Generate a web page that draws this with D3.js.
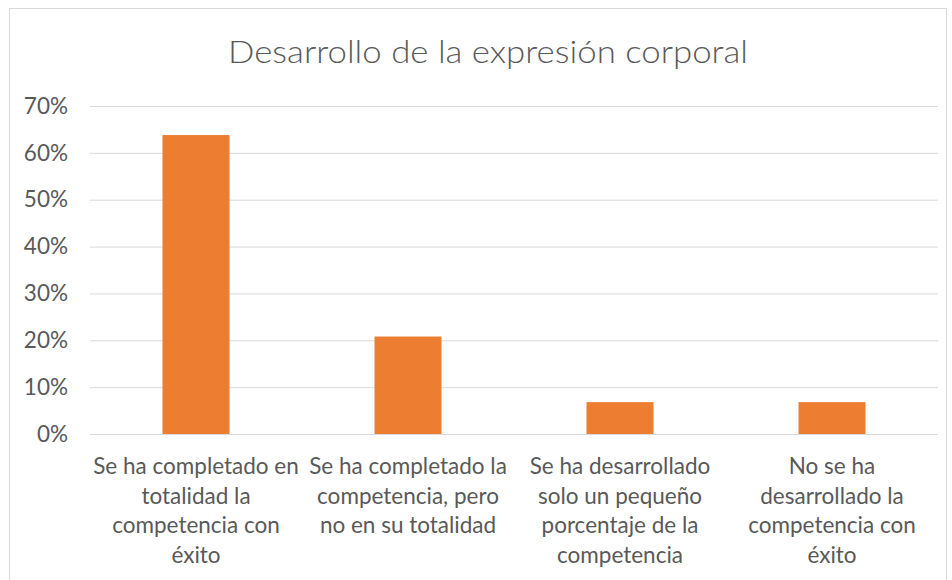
<!DOCTYPE html>
<html>
<head>
<meta charset="utf-8">
<script src="https://cdn.jsdelivr.net/npm/d3@7"></script>
<style>
  body { margin: 0; background: #fff; }
  svg text { font-family: Lato, "Open Sans", sans-serif; fill: #595959; }
</style>
</head>
<body>
<svg id="chart" width="952" height="580"></svg>
<script>
const chartTitle = 'Desarrollo de la expresión corporal';
const categories = [
    ['Se ha completado en', 'totalidad la', 'competencia con', 'éxito'],
    ['Se ha completado la', 'competencia, pero', 'no en su totalidad'],
    ['Se ha desarrollado', 'solo un pequeño', 'porcentaje de la', 'competencia'],
    ['No se ha', 'desarrollado la', 'competencia con', 'éxito']
];
const values = [0.638, 0.208, 0.068, 0.068];
const yTicks = [0, 0.1, 0.2, 0.3, 0.4, 0.5, 0.6, 0.7];

const sizes = {
    margins: {l: 90, r: 14, t: 106, b: 146}
};
const W = 952, H = 580;

const svg = d3.select('#chart');

// chart frame
svg.append('rect')
  .attr('x', 9.5).attr('y', 8.5)
  .attr('width', 937).attr('height', 600)
  .attr('fill', '#fff')
  .attr('stroke', '#d9d9d9');

const xS = d3.scaleBand()
  .domain(d3.range(categories.length))
  .range([sizes.margins.l, W - sizes.margins.r])
  .paddingInner(0.684)
  .paddingOuter(0.342);

const yS = d3.scaleLinear()
  .domain([0, 0.7])
  .range([H - sizes.margins.b, sizes.margins.t]);

// gridlines + y labels
const yAxis = svg.append('g')
  .attr('transform', `translate(${sizes.margins.l},0)`)
  .call(d3.axisLeft(yS)
    .tickValues(yTicks)
    .tickFormat(d3.format('.0%'))
    .tickSize(-(W - sizes.margins.l - sizes.margins.r))
    .tickPadding(22));
yAxis.select('.domain').remove();
yAxis.selectAll('line').attr('stroke', '#d9d9d9');
yAxis.selectAll('text')
  .style('font-size', '22.5px')
  .attr('fill', '#595959');

// bars
svg.append('g').selectAll('rect')
  .data(values)
  .join('rect')
  .attr('x', (d, i) => xS(i))
  .attr('width', xS.bandwidth())
  .attr('y', d => yS(d))
  .attr('height', d => yS(0) - yS(d))
  .attr('fill', '#ed7d31');

// category labels
svg.append('g').selectAll('text')
  .data(categories)
  .join('text')
  .attr('text-anchor', 'middle')
  .style('font-size', '22.5px')
  .each(function (lines, i) {
      const cx = xS(i) + xS.bandwidth() / 2;
      d3.select(this).selectAll('tspan')
        .data(lines)
        .join('tspan')
        .attr('x', cx)
        .attr('y', (d, j) => 474 + j * 29.5)
        .text(d => d);
  });

// title
svg.append('text')
  .attr('x', 488)
  .attr('y', 63)
  .attr('text-anchor', 'middle')
  .style('font-size', '31px')
  .style('font-weight', 300)
  .attr('textLength', 520)
  .attr('lengthAdjust', 'spacingAndGlyphs')
  .text(chartTitle);
</script>
</body>
</html>
